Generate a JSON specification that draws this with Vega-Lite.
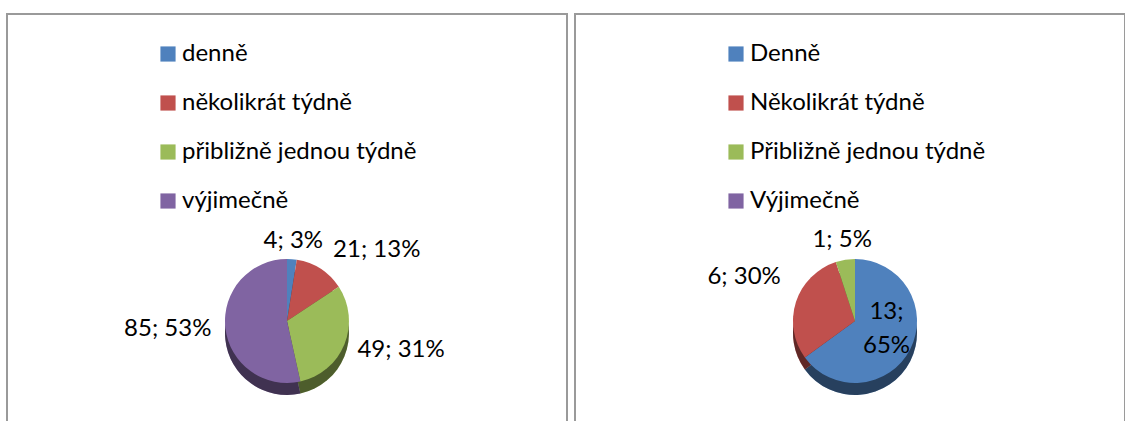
{
  "$schema": "https://vega.github.io/schema/vega-lite/v6.json",
  "padding": {"left": 6, "top": 13, "right": 0, "bottom": 0},
  "background": "white",
  "spacing": 6,
  "config": {
    "view": {"stroke": "#9a9a9a", "strokeWidth": 2},
    "font": "Lato",
    "text": {"font": "Lato", "fontSize": 24, "color": "#000000"},
    "legend": {
      "labelFont": "Lato",
      "labelFontSize": 24,
      "labelColor": "#000000",
      "labelLimit": 400,
      "symbolType": "square",
      "symbolSize": 230,
      "symbolStrokeWidth": 0,
      "labelOffset": 2,
      "rowPadding": 25,
      "padding": 0
    }
  },
  "resolve": {"scale": {"color": "independent"}, "legend": {"color": "independent"}},
  "hconcat": [
    {
      "width": 560,
      "height": 410,
      "view": {"stroke": "#9a9a9a", "strokeWidth": 2, "fill": "white"},
      "data": {"values": [
        {"k": 1, "kategorie": "denně", "pocet": 4, "label": "4; 3%"},
        {"k": 2, "kategorie": "několikrát týdně", "pocet": 21, "label": "21; 13%"},
        {"k": 3, "kategorie": "přibližně jednou týdně", "pocet": 49, "label": "49; 31%"},
        {"k": 4, "kategorie": "výjimečně", "pocet": 85, "label": "85; 53%"}
      ]},
      "encoding": {
        "theta": {"field": "pocet", "type": "quantitative", "stack": true},
        "order": {"field": "k", "type": "quantitative"}
      },
      "layer": [
        {
          "mark": {"type": "arc", "radius": 62, "yOffset": 114},
          "encoding": {
            "color": {
              "field": "kategorie", "type": "nominal",
              "scale": {"domain": ["denně", "několikrát týdně", "přibližně jednou týdně", "výjimečně"], "range": ["#4F81BD", "#C0504D", "#9BBB59", "#8064A2"]},
              "legend": {"orient": "none", "legendX": 149, "legendY": 28, "title": null}
            }
          }
        },
        {
          "mark": {"type": "arc", "radius": 62, "yOffset": 114, "color": "#000000", "opacity": 0.5}
        },
        {
          "mark": {"type": "arc", "radius": 62, "yOffset": 102},
          "encoding": {
            "color": {"field": "kategorie", "type": "nominal"}
          }
        },
        {
          "mark": {"type": "text", "radius": 80, "yOffset": 102, "align": "center", "baseline": "middle"},
          "encoding": {"text": {"condition": {"test": "datum.k == 1", "field": "label"}, "value": ""}}
        },
        {
          "mark": {"type": "text", "radius": 85, "yOffset": 102, "align": "left", "baseline": "middle"},
          "encoding": {"text": {"condition": {"test": "datum.k == 2", "field": "label"}, "value": ""}}
        },
        {
          "mark": {"type": "text", "radius": 76, "yOffset": 102, "align": "left", "baseline": "middle"},
          "encoding": {"text": {"condition": {"test": "datum.k == 3", "field": "label"}, "value": ""}}
        },
        {
          "mark": {"type": "text", "radius": 76, "yOffset": 102, "align": "right", "baseline": "middle"},
          "encoding": {"text": {"condition": {"test": "datum.k == 4", "field": "label"}, "value": ""}}
        }
      ]
    },
    {
      "width": 550,
      "height": 410,
      "view": {"stroke": "#9a9a9a", "strokeWidth": 2, "fill": "white"},
      "data": {"values": [
        {"k": 1, "kategorie": "Denně", "pocet": 13, "label": "13;\n65%"},
        {"k": 2, "kategorie": "Několikrát týdně", "pocet": 6, "label": "6; 30%"},
        {"k": 3, "kategorie": "Přibližně jednou týdně", "pocet": 1, "label": "1; 5%"},
        {"k": 4, "kategorie": "Výjimečně", "pocet": 0, "label": ""}
      ]},
      "encoding": {
        "theta": {"field": "pocet", "type": "quantitative", "stack": true},
        "order": {"field": "k", "type": "quantitative"}
      },
      "layer": [
        {
          "mark": {"type": "arc", "radius": 62, "xOffset": 5, "yOffset": 114},
          "encoding": {
            "color": {
              "field": "kategorie", "type": "nominal",
              "scale": {"domain": ["Denně", "Několikrát týdně", "Přibližně jednou týdně", "Výjimečně"], "range": ["#4F81BD", "#C0504D", "#9BBB59", "#8064A2"]},
              "legend": {"orient": "none", "legendX": 149, "legendY": 28, "title": null}
            }
          }
        },
        {
          "mark": {"type": "arc", "radius": 62, "xOffset": 5, "yOffset": 114, "color": "#000000", "opacity": 0.5}
        },
        {
          "mark": {"type": "arc", "radius": 62, "xOffset": 5, "yOffset": 102},
          "encoding": {
            "color": {"field": "kategorie", "type": "nominal"}
          }
        },
        {
          "mark": {"type": "text", "radius": 32, "xOffset": 8, "yOffset": 78, "align": "center", "baseline": "middle", "lineBreak": "\n", "lineHeight": 34},
          "encoding": {"text": {"condition": {"test": "datum.k == 1", "field": "label"}, "value": ""}}
        },
        {
          "mark": {"type": "text", "radius": 78, "xOffset": 5, "yOffset": 82, "align": "right", "baseline": "middle"},
          "encoding": {"text": {"condition": {"test": "datum.k == 2", "field": "label"}, "value": ""}}
        },
        {
          "mark": {"type": "text", "radius": 82, "xOffset": 5, "yOffset": 102, "align": "center", "baseline": "middle"},
          "encoding": {"text": {"condition": {"test": "datum.k == 3", "field": "label"}, "value": ""}}
        }
      ]
    }
  ]
}
